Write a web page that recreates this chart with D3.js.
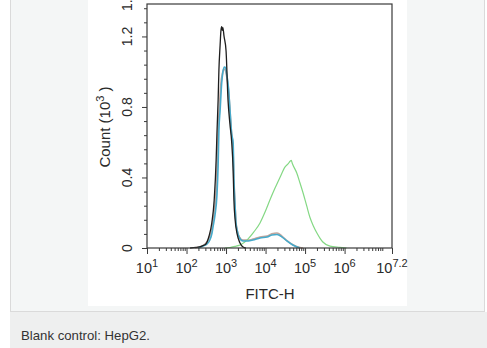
<!DOCTYPE html>
<html>
<head>
<meta charset="utf-8">
<script src="https://cdn.jsdelivr.net/npm/d3@7/dist/d3.min.js"></script>
<style>
  html, body { margin: 0; padding: 0; background: #ffffff; }
  svg { display: block; }
  text { font-family: "Liberation Sans", Arial, sans-serif; }
</style>
</head>
<body>
<svg id="chart" width="487" height="348"></svg>
<script>
// FITC-H histogram overlay: each curve is [log10(FITC-H), count in thousands]
const blankCurve = [
  [2.09,0],[2.24,0.003],[2.39,0.011],[2.49,0.023],[2.57,0.068],[2.64,0.142],[2.70,0.27],
  [2.75,0.50],[2.77,0.65],[2.80,0.84],[2.82,1.01],[2.85,1.15],[2.87,1.23],[2.89,1.255],
  [2.905,1.235],[2.92,1.25],[2.95,1.20],[3.00,1.12],[3.05,0.84],[3.10,0.70],[3.14,0.61],
  [3.18,0.44],[3.20,0.27],[3.23,0.16],[3.28,0.08],[3.35,0.03],[3.43,0.006],[3.50,0]
];
const isotypeCurve = [
  [2.22,0],[2.36,0.008],[2.47,0.022],[2.56,0.05],[2.62,0.09],[2.66,0.13],[2.70,0.20],
  [2.75,0.33],[2.78,0.50],[2.80,0.66],[2.83,0.79],[2.87,0.93],[2.91,0.99],[2.95,1.015],
  [2.98,1.01],[3.02,0.97],[3.06,0.90],[3.10,0.78],[3.14,0.65],[3.17,0.59],[3.20,0.38],
  [3.23,0.23],[3.25,0.15],[3.28,0.10],[3.33,0.065],[3.43,0.045],[3.56,0.045],[3.68,0.05],
  [3.86,0.062],[4.04,0.068],[4.16,0.08],[4.29,0.085],[4.42,0.066],[4.54,0.042],[4.69,0.018],
  [4.87,0.002],[4.95,0]
];
const secondaryCurve = [
  [2.29,0],[2.42,0.011],[2.52,0.023],[2.59,0.045],[2.645,0.085],[2.67,0.119],[2.72,0.187],
  [2.77,0.30],[2.80,0.47],[2.82,0.67],[2.85,0.78],[2.89,0.936],[2.92,0.998],[2.96,1.027],
  [2.99,1.021],[3.02,0.981],[3.06,0.913],[3.10,0.783],[3.14,0.652],[3.18,0.596],[3.20,0.386],
  [3.23,0.233],[3.25,0.147],[3.28,0.102],[3.33,0.062],[3.43,0.040],[3.56,0.040],[3.68,0.045],
  [3.86,0.057],[4.04,0.062],[4.16,0.074],[4.29,0.077],[4.42,0.062],[4.54,0.040],[4.69,0.017],
  [4.87,0]
];
const stainedCurve = [
  [2.97,0],[3.10,0.003],[3.23,0.009],[3.38,0.02],[3.53,0.045],[3.70,0.09],[3.86,0.142],
  [3.99,0.205],[4.11,0.272],[4.24,0.34],[4.37,0.403],[4.49,0.459],[4.58,0.48],[4.62,0.492],
  [4.65,0.497],[4.68,0.478],[4.79,0.425],[4.87,0.37],[4.95,0.312],[5.04,0.24],[5.12,0.176],
  [5.21,0.125],[5.30,0.085],[5.38,0.055],[5.45,0.034],[5.63,0.011],[5.88,0.004],[6.05,0]
];

const curves = [
  { name: "isotype",   points: isotypeCurve,   color: "#c2a59c", width: 1.7 },
  { name: "stained",   points: stainedCurve,   color: "#84d884", width: 1.2 },
  { name: "secondary", points: secondaryCurve, color: "#46aacb", width: 1.6 },
  { name: "blank",     points: blankCurve,     color: "#1e1e1e", width: 1.3 }
];

const xMajorExps = [1, 2, 3, 4, 5, 6, 7.2];
const xMajorLabels = ["1", "2", "3", "4", "5", "6", "7.2"];
const yTickValues = [0, 0.4, 0.8, 1.2, 1.4];
const yTickLabels = ["0", "0.4", "0.8", "1.2", "1.4"];
const xTitle = "FITC-H";
const yTitle = "Count (10";
const caption = "Blank control: HepG2.";

const svg = d3.select("#chart");
const W = 487, H = 348;

// page panels
svg.append("rect").attr("x", 10.5).attr("y", -1).attr("width", 474).attr("height", 312.5)
  .attr("fill", "#f4f6f6").attr("stroke", "#dadada");
svg.append("rect").attr("x", 88).attr("y", 0).attr("width", 319).attr("height", 306)
  .attr("fill", "#ffffff");
svg.append("rect").attr("x", 10).attr("y", 312).attr("width", W - 10).attr("height", 36)
  .attr("fill", "#eeefef");
svg.append("text").attr("x", 21).attr("y", 340).attr("font-size", 13.2).attr("fill", "#333")
  .text(caption);

// scales
const plotL = 147, plotR = 392, plotT = 4, plotB = 248;
const x = d3.scaleLog().domain([10, Math.pow(10, 7.2)]).range([plotL, plotR]);
const y = d3.scaleLinear().domain([0, (plotB - plotT) / 176.3]).range([plotB, plotT]);

const plot = svg.append("g");

// curves
const line = d3.line()
  .x(d => x(Math.pow(10, d[0])))
  .y(d => y(d[1]))
  .curve(d3.curveMonotoneX);

plot.selectAll("path.curve").data(curves).join("path")
  .attr("class", "curve")
  .attr("d", d => line(d.points))
  .attr("fill", "none")
  .attr("stroke", d => d.color)
  .attr("stroke-width", d => d.width)
  .attr("stroke-linejoin", "round");

// frame
plot.append("rect").attr("x", plotL).attr("y", plotT)
  .attr("width", plotR - plotL).attr("height", plotB - plotT)
  .attr("fill", "none").attr("stroke", "#3a3a3a").attr("stroke-width", 1.2);

// x axis: major and minor log ticks
const xMinor = [];
for (let e = 1; e <= 7; e++) {
  for (let m = 2; m <= 9; m++) {
    const v = m * Math.pow(10, e);
    if (v < Math.pow(10, 7.2)) xMinor.push(v);
  }
}
const xAxisMinor = d3.axisBottom(x).tickValues(xMinor).tickSize(3).tickFormat("");
const xAxisMajor = d3.axisBottom(x).tickValues(xMajorExps.map(e => Math.pow(10, e)))
  .tickSize(6).tickFormat("");
[xAxisMinor, xAxisMajor].forEach(ax => {
  const g = plot.append("g").attr("transform", `translate(0,${plotB})`).call(ax);
  g.select(".domain").remove();
  g.selectAll("line").attr("stroke", "#3a3a3a");
});

const xl = plot.append("g");
xMajorExps.forEach((e, i) => {
  const t = xl.append("text")
    .attr("x", x(Math.pow(10, e)))
    .attr("y", 273)
    .attr("text-anchor", "middle")
    .attr("font-size", 14.5)
    .attr("fill", "#2a2a2a");
  t.append("tspan").text("10");
  t.append("tspan").attr("dy", -6.5).attr("font-size", 11).text(xMajorLabels[i]);
});

svg.append("text").attr("x", 270).attr("y", 299).attr("text-anchor", "middle")
  .attr("font-size", 15).attr("fill", "#2a2a2a").text(xTitle);

// y axis
const yMinor = d3.range(0, 1.39, 0.08).filter(v => !yTickValues.some(t => Math.abs(t - v) < 1e-6));
const yAxisMinor = d3.axisLeft(y).tickValues(yMinor).tickSize(3).tickFormat("");
const yAxisMajor = d3.axisLeft(y).tickValues(yTickValues.filter(v => v < 1.39)).tickSize(5).tickFormat("");
[yAxisMinor, yAxisMajor].forEach(ax => {
  const g = plot.append("g").attr("transform", `translate(${plotL},0)`).call(ax);
  g.select(".domain").remove();
  g.selectAll("line").attr("stroke", "#3a3a3a");
});

yTickValues.forEach((v, i) => {
  plot.append("text")
    .attr("transform", `translate(132,${y(v)}) rotate(-90)`)
    .attr("text-anchor", "middle")
    .attr("font-size", 14)
    .attr("fill", "#2a2a2a")
    .text(yTickLabels[i]);
});

const yt = svg.append("text")
  .attr("transform", "translate(110,127) rotate(-90)")
  .attr("text-anchor", "middle")
  .attr("font-size", 15)
  .attr("fill", "#2a2a2a");
yt.append("tspan").text(yTitle);
yt.append("tspan").attr("dy", -6.5).attr("font-size", 11).text("3");
yt.append("tspan").attr("dy", 6.5).text(" )");
</script>
</body>
</html>
